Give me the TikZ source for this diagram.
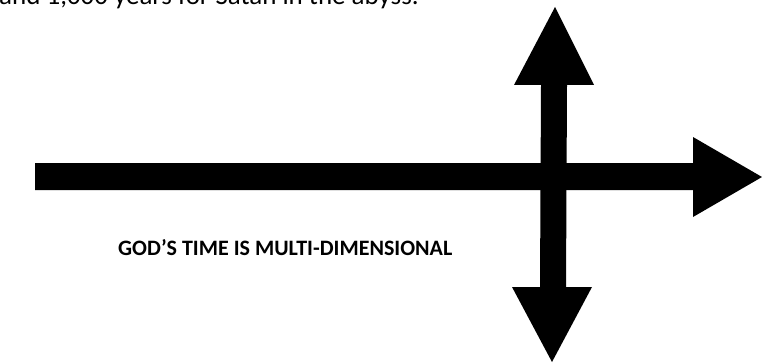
\documentclass[tikz,border=0pt]{standalone}
\usepackage{fontspec}
\setmainfont{Carlito}
\begin{document}
\begin{tikzpicture}[x=1pt,y=1pt,
  arrowfill/.style={fill=black,draw=none},
  txt/.style={inner sep=0pt,anchor=base west,font=\fontsize{22}{26}\selectfont}]
\useasboundingbox (0,0) rectangle (762,362);
% horizontal arrow
\fill[arrowfill] (35,172) -- (693,172) -- (693,145) -- (762,185) -- (693,225) -- (693,199) -- (35,199) -- cycle;
% vertical double arrow
\fill[arrowfill] (541,277) -- (514,277) -- (555,355) -- (594,277) -- (567,277)
  -- (566,75) -- (592,75) -- (552,0) -- (512,75) -- (540,75) -- cycle;
\node[txt,font=\fontsize{27}{32}\selectfont] (top) at (-1,357) {and 1,000 years for Satan in the abyss.};
\node[txt,font=\fontsize{22}{26}\selectfont\bfseries] (lbl) at (118,107) {GOD’S TIME IS MULTI-DIMENSIONAL};
\end{tikzpicture}
\end{document}
